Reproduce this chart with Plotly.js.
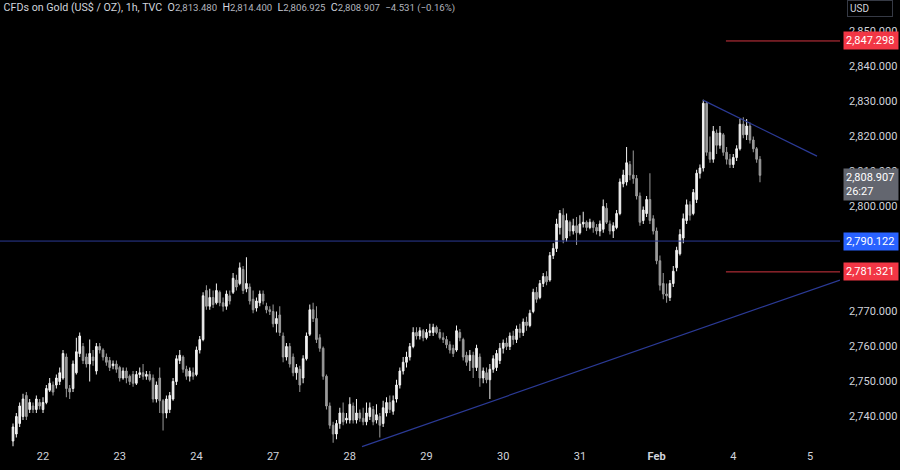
<!DOCTYPE html>
<html>
<head>
<meta charset="utf-8">
<script src="https://cdn.plot.ly/plotly-3.0.1.min.js"></script>
<style>
  html, body { margin: 0; padding: 0; background: #000; }
  #chart { width: 900px; height: 470px; }
</style>
</head>
<body>
<div id="chart"></div>
<script>
// ---- Data (hourly bars, CFDs on Gold) ----
const FIRST_BAR = -9; // bar index of first visible candle (index 0 = start of Jan 22)

const openPx = [
  2733, 2735, 2738, 2740, 2746, 2742, 2743, 2742, 2744, 2742,
  2744, 2747.5, 2749, 2749, 2750, 2751, 2757, 2748, 2748, 2752.5,
  2758, 2760, 2757, 2755, 2757, 2753, 2760, 2759, 2757, 2756,
  2754.5, 2755, 2754, 2751, 2753, 2751.5, 2752, 2749.5, 2752, 2752.5,
  2751.5, 2752, 2751, 2745, 2751, 2744.5, 2741, 2742, 2745, 2750,
  2756, 2757, 2753.5, 2751.5, 2752.5, 2752, 2759, 2762, 2776, 2771.5,
  2774, 2772.5, 2775.5, 2772.5, 2771.5, 2774.5, 2775.5, 2779, 2778, 2782,
  2776.5, 2777, 2773.5, 2771, 2772.5, 2775, 2771.5, 2770.5, 2770, 2766.5,
  2769, 2763, 2757, 2760, 2757, 2752.5, 2753.5, 2751, 2756.5, 2763.5,
  2770.5, 2768, 2762.5, 2759.5, 2751.5, 2743, 2737.5, 2735, 2738, 2741,
  2739, 2739, 2743, 2739, 2741, 2739.5, 2738.5, 2740, 2742, 2739,
  2740, 2738, 2741, 2744, 2741.5, 2745, 2749, 2753, 2755.5, 2757,
  2760, 2764, 2763, 2764.5, 2762.5, 2764, 2764, 2765.5, 2764, 2762.5,
  2762, 2760.5, 2759.5, 2759, 2764, 2762, 2757.5, 2756, 2757.5, 2754,
  2757, 2751, 2752.5, 2750.5, 2753.5, 2754, 2756, 2759.5, 2761, 2760,
  2763, 2762, 2765, 2764, 2767, 2766, 2770, 2775.5, 2774, 2778,
  2780, 2779, 2786, 2788, 2794, 2797.5, 2791, 2795.5, 2793, 2794.5,
  2792.5, 2795, 2795.5, 2794, 2795.5, 2794, 2793, 2793.5, 2799.5, 2795,
  2793, 2794, 2798, 2806.5, 2807, 2812, 2809, 2808, 2803, 2796,
  2798, 2802, 2796.5, 2793, 2784.5, 2778, 2775, 2774, 2778, 2782.5,
  2786.5, 2791, 2796, 2800.5, 2798, 2802, 2809.5, 2811, 2829.5, 2815.5,
  2813.5, 2821, 2817.5, 2820.5, 2815.5, 2813.5, 2812, 2814, 2816.5, 2823.5,
  2820.5, 2823, 2819, 2816.5, 2813.48
];
const highPx = [
  2738, 2741, 2744, 2746.5, 2747, 2745, 2744, 2746, 2745, 2745.5,
  2749, 2751, 2750, 2752, 2754, 2759, 2758, 2749, 2756, 2762.5,
  2764, 2761, 2758, 2762, 2759, 2761, 2761, 2759.5, 2758, 2757,
  2756, 2756, 2754.5, 2754, 2754, 2752, 2753, 2753, 2754, 2755,
  2753, 2753, 2752, 2750, 2754, 2745, 2746, 2747, 2751, 2757.5,
  2759, 2757.5, 2754.5, 2754, 2754, 2760, 2763, 2775.5, 2777.5, 2776.5,
  2776, 2778, 2776, 2774, 2776, 2776, 2781, 2780.5, 2784, 2783,
  2785.5, 2778, 2776, 2774, 2776, 2776, 2772.5, 2771.5, 2772, 2770,
  2771.5, 2764, 2761, 2761, 2758, 2755, 2754.5, 2757.5, 2764, 2772,
  2772.5, 2771.5, 2763.5, 2760, 2752, 2744, 2738.5, 2739, 2742.5, 2744,
  2741, 2745.5, 2744, 2745, 2742, 2742.5, 2744, 2744, 2743, 2743.5,
  2741, 2744.5, 2745.5, 2746, 2746, 2750.5, 2754, 2757, 2758.5, 2761,
  2765.5, 2765.5, 2765.5, 2765, 2765, 2766.5, 2766.5, 2766, 2765, 2764,
  2763, 2761.5, 2760.5, 2766, 2765, 2762.5, 2758.5, 2759, 2758.5, 2760.5,
  2758, 2754, 2754, 2755, 2757.5, 2759, 2761, 2762, 2762.5, 2764,
  2764.5, 2766, 2766.5, 2768, 2768.5, 2770.5, 2776.5, 2777, 2779, 2781,
  2781.5, 2787, 2789.5, 2796.5, 2799, 2799.5, 2798, 2796, 2796.5, 2797,
  2797.5, 2798.5, 2796, 2796.5, 2796, 2795, 2796, 2802, 2801, 2796,
  2795.5, 2799, 2808, 2810.5, 2817, 2813, 2816, 2809, 2804, 2800,
  2803, 2809.5, 2797.5, 2794, 2786, 2781, 2778, 2779, 2783, 2788.5,
  2793.5, 2798, 2802, 2801.5, 2805, 2810.5, 2812, 2830.5, 2830, 2820,
  2823, 2822, 2823, 2821, 2817, 2815, 2815, 2817.5, 2825, 2825.5,
  2825, 2824, 2820, 2817, 2814.4
];
const lowPx = [
  2731.5, 2734, 2737, 2739, 2739, 2741, 2741, 2741, 2742, 2741,
  2743.5, 2747, 2746, 2748, 2749, 2750.5, 2745.5, 2745, 2747, 2752,
  2757, 2755, 2754, 2750, 2754.5, 2752, 2758, 2756, 2754.5, 2753,
  2753.5, 2752.5, 2750, 2750.5, 2749.5, 2749, 2748.5, 2749, 2751, 2750.5,
  2750.5, 2750, 2744, 2744, 2741, 2736, 2739.5, 2741, 2744.5, 2749,
  2755, 2752.5, 2750.5, 2750, 2750.5, 2751.5, 2758, 2761.5, 2770.5, 2770.5,
  2771, 2772, 2771.5, 2770, 2770.5, 2772, 2775, 2776, 2777.5, 2775,
  2775.5, 2772, 2769.5, 2770, 2771.5, 2772, 2769.5, 2769, 2765.5, 2764,
  2763, 2755.5, 2756, 2754, 2751.5, 2750.5, 2747, 2749.5, 2756, 2763,
  2767, 2761, 2758.5, 2750.5, 2742, 2736.5, 2732.5, 2733.5, 2736.5, 2737.5,
  2738, 2738, 2738, 2738, 2738.5, 2737.5, 2737.5, 2739, 2737.5, 2738,
  2734, 2737, 2740, 2741, 2740.5, 2744, 2748, 2752, 2754, 2756,
  2759.5, 2762, 2762, 2761.5, 2762, 2763, 2763, 2763.5, 2762, 2761,
  2759.5, 2758, 2757, 2758.5, 2761.5, 2756, 2754.5, 2753, 2751, 2753,
  2748.5, 2749.5, 2749.5, 2745, 2752.5, 2753, 2755, 2758, 2759, 2759,
  2760.5, 2761, 2762.5, 2763, 2764.5, 2765.5, 2769.5, 2772.5, 2773.5, 2777,
  2777.5, 2778.5, 2785, 2787, 2792, 2789.5, 2790, 2791.5, 2792, 2789,
  2792, 2794, 2793, 2793.5, 2792.5, 2792, 2791.5, 2792.5, 2795, 2792,
  2791, 2793.5, 2797.5, 2805.5, 2806, 2807.5, 2806.5, 2802, 2794.5, 2795,
  2797, 2795, 2792, 2783.5, 2776, 2773.5, 2772.5, 2773, 2777, 2781.5,
  2786, 2789.5, 2795, 2796, 2797.5, 2801, 2808, 2810, 2814.5, 2812.5,
  2812.5, 2815, 2816.5, 2814.5, 2812, 2811, 2811, 2813, 2816, 2819.5,
  2819, 2818, 2815.5, 2812.5, 2806.925
];
const closePx = [
  2737, 2740, 2743, 2745, 2740, 2744, 2742, 2745, 2743, 2744,
  2748, 2749.5, 2747, 2751, 2752.5, 2758, 2748, 2747, 2755, 2758.5,
  2763, 2756, 2755, 2758, 2756, 2760, 2759, 2757, 2755.5, 2754,
  2755, 2753.5, 2751, 2753, 2751, 2750, 2749.5, 2752, 2752.5, 2751.5,
  2752, 2750.5, 2745, 2749, 2744.5, 2741, 2745, 2746, 2750, 2756.5,
  2757.5, 2753.5, 2751.5, 2753, 2751.5, 2759, 2762, 2774.5, 2771.5, 2774,
  2772, 2776, 2772.5, 2771.5, 2775, 2773, 2779.5, 2777, 2782.5, 2776,
  2778, 2773, 2770.5, 2773, 2775, 2773, 2770.5, 2770, 2766.5, 2768,
  2764, 2757, 2760, 2755, 2752.5, 2754, 2749, 2756.5, 2763, 2770.5,
  2768, 2762, 2759.5, 2751.5, 2743, 2737.5, 2735, 2738, 2741, 2738.5,
  2739.5, 2743.5, 2739, 2741, 2739.5, 2738.5, 2741, 2742.5, 2738.5, 2740.5,
  2737.5, 2742.5, 2744, 2742, 2744.5, 2749, 2753, 2755.5, 2757, 2760,
  2764, 2763, 2764.5, 2762.5, 2764, 2764.5, 2765.5, 2764, 2762.5, 2762,
  2760.5, 2759, 2758, 2764.5, 2762.5, 2757, 2755.5, 2757.5, 2754, 2759.5,
  2751, 2753, 2750.5, 2753.5, 2756.5, 2758, 2759.5, 2761, 2760, 2763,
  2762, 2765, 2764, 2767, 2766, 2769.5, 2775.5, 2773.5, 2778, 2780,
  2778.5, 2786, 2788, 2795, 2798, 2790.5, 2796, 2793, 2794.5, 2792.5,
  2795, 2795.5, 2794, 2795.5, 2794, 2793, 2795, 2800, 2795.5, 2793,
  2794.5, 2798, 2807, 2809, 2812.5, 2809, 2808, 2803, 2795.5, 2799,
  2802, 2796, 2793, 2784.5, 2777.5, 2775, 2774.5, 2778, 2781.5, 2787.5,
  2792, 2796.5, 2800.5, 2797.5, 2804, 2809.5, 2811, 2829.5, 2815.5, 2813.5,
  2821.5, 2817.5, 2821, 2815.5, 2813.5, 2812, 2814, 2816.5, 2823.5, 2820.5,
  2823, 2819, 2816.5, 2813.5, 2808.907
];

// x-axis day labels (bar index at start of each trading day, 23 bars/day)
const dayTickIndex = [0, 23, 46, 69, 92, 115, 138, 161, 184, 207, 230];
const dayTickLabels = ['22', '23', '24', '27', '28', '29', '30', '31', '<b>Feb</b>', '4', '5'];

// price-scale labels visible in the reference (2,780 and 2,790 sit under the price tags)
const priceTicks = [2740, 2750, 2760, 2770, 2800, 2810, 2820, 2830, 2840, 2850];

// drawn levels and trendlines
const blueLevel = 2790.122;
const redLevels = [2847.298, 2781.321];
const redLevelStart = 204.8;
const supportX = [95.65, 239];
const supportY = [2731.4, 2779.0];
const resistX = [197.9, 232.1];
const resistY = [2830.4, 2814.4];

const lastPrice = 2808.907;
const countdown = '26:27';
const X_RANGE = [-12.9, 239];
const Y_RANGE = [2731, 2859];

const barIndex = closePx.map((_, k) => k + FIRST_BAR);

const fmt = v => v.toLocaleString('en-US', {minimumFractionDigits: 3, maximumFractionDigits: 3});

const traces = [
  {
    type: 'scatter', mode: 'lines', x: X_RANGE, y: [blueLevel, blueLevel],
    line: {color: '#2b3a96', width: 1}, hoverinfo: 'skip', showlegend: false
  },
  ...redLevels.map(v => ({
    type: 'scatter', mode: 'lines', x: [redLevelStart, X_RANGE[1]], y: [v, v],
    line: {color: '#d23540', width: 1}, hoverinfo: 'skip', showlegend: false
  })),
  {
    type: 'scatter', mode: 'lines', x: supportX, y: supportY,
    line: {color: '#2b3a96', width: 1.2}, hoverinfo: 'skip', showlegend: false
  },
  {
    type: 'scatter', mode: 'lines', x: resistX, y: resistY,
    line: {color: '#2b3a96', width: 1.2}, hoverinfo: 'skip', showlegend: false
  },
  {
    type: 'candlestick', x: barIndex,
    open: openPx, high: highPx, low: lowPx, close: closePx,
    increasing: {line: {color: '#f2f2f2', width: 1}, fillcolor: '#f2f2f2'},
    decreasing: {line: {color: '#9a9a9a', width: 1}, fillcolor: '#9a9a9a'},
    whiskerwidth: 0, showlegend: false, hoverinfo: 'skip'
  }
];

const FONT = 'Roboto, "DejaVu Sans", sans-serif';
const labelFont = {family: FONT, size: 11, color: '#ffffff'};
const priceTag = (v, bg) => ({
  xref: 'paper', x: 1, xanchor: 'left', xshift: 3,
  yref: 'y', y: v, yanchor: 'middle',
  text: fmt(v), showarrow: false, align: 'left',
  bgcolor: bg, borderpad: 2, width: 50, font: labelFont
});

const grey = '#b2b5be';
const white = '#d1d4dc';
const num = t => `<span style="color:${grey};font-size:9.6px">${t}</span>`;
const lab = t => `<span style="color:${white}">${t}</span>`;
const titleText =
  lab('CFDs on Gold (US$ / OZ), 1h, TVC') + '  ' +
  lab('O') + num('2,813.480') + '  ' +
  lab('H') + num('2,814.400') + '  ' +
  lab('L') + num('2,806.925') + '  ' +
  lab('C') + num('2,808.907') + '  ' +
  num('−4.531 (−0.16%)');

const layout = {
  width: 900, height: 470,
  paper_bgcolor: '#000000', plot_bgcolor: '#000000',
  margin: {l: 0, r: 60, t: 0, b: 22, pad: 0},
  showlegend: false,
  title: {
    text: titleText, xref: 'container', yref: 'container',
    x: 0.004, xanchor: 'left', y: 0.993, yanchor: 'top',
    font: {family: FONT, size: 10.7, color: white}
  },
  xaxis: {
    range: X_RANGE, showgrid: false, zeroline: false, showline: false,
    tickmode: 'array', tickvals: dayTickIndex, ticktext: dayTickLabels,
    ticks: '', tickfont: {family: FONT, size: 11, color: white},
    rangeslider: {visible: false}, fixedrange: true
  },
  yaxis: {
    side: 'right', range: Y_RANGE, showgrid: false, zeroline: false, showline: false,
    tickmode: 'array', tickvals: priceTicks, tickformat: ',.3f', ticks: '',
    ticklabelstandoff: 8,
    tickfont: {family: FONT, size: 11, color: white},
    fixedrange: true
  },
  annotations: [
    priceTag(redLevels[0], '#f23645'),
    priceTag(blueLevel, '#2962ff'),
    priceTag(redLevels[1], '#f23645'),
    {
      xref: 'paper', x: 1, xanchor: 'left', xshift: 3,
      yref: 'y', y: lastPrice, yanchor: 'top', yshift: 7,
      text: fmt(lastPrice) + '<br>' + countdown, showarrow: false, align: 'left',
      bgcolor: '#63666f', borderpad: 2, width: 50, font: labelFont
    },
    {
      xref: 'paper', x: 1, xanchor: 'left', xshift: 7,
      yref: 'paper', y: 1, yanchor: 'top',
      text: 'USD', showarrow: false, align: 'left',
      bgcolor: '#000000', bordercolor: '#363a45', borderwidth: 1, borderpad: 2, width: 40,
      font: {family: FONT, size: 10, color: white}
    }
  ]
};

Plotly.newPlot('chart', traces, layout, {displayModeBar: false, staticPlot: true});
</script>
</body>
</html>
